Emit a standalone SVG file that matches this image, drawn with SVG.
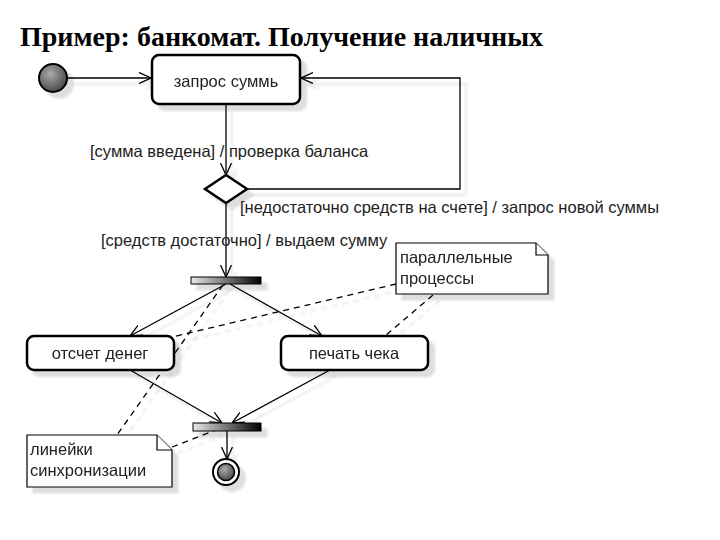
<svg xmlns="http://www.w3.org/2000/svg" width="720" height="540" viewBox="0 0 720 540">
<style>
.t{font-family:"Liberation Sans",Arial,sans-serif;font-size:16.5px;fill:#222}
.title{font-family:"Liberation Serif","Times New Roman",serif;font-size:28px;font-weight:bold;fill:#000}
.box{fill:#fff;stroke:#000;stroke-width:2.5}
.ln{fill:none;stroke:#000;stroke-width:1.3}
.dash{fill:none;stroke:#000;stroke-width:1.3;stroke-dasharray:6,5}
.note{fill:#fff;stroke:#000;stroke-width:1.2}
.bar{stroke:#000;stroke-width:1;fill:url(#bg)}
</style>
<defs>
<linearGradient id="bg" x1="0" y1="0" x2="1" y2="0">
<stop offset="0" stop-color="#e8e8e8"/><stop offset="1" stop-color="#000"/>
</linearGradient>
<radialGradient id="ball" cx="0.4" cy="0.35" r="0.7">
<stop offset="0" stop-color="#aaa"/><stop offset="1" stop-color="#444"/>
</radialGradient>
<filter id="sh" filterUnits="userSpaceOnUse" x="0" y="0" width="720" height="540">
<feGaussianBlur in="SourceAlpha" stdDeviation="1.2"/>
<feOffset dx="6" dy="6"/>
<feComponentTransfer><feFuncA type="linear" slope="0.13"/></feComponentTransfer>
<feMerge><feMergeNode/><feMergeNode in="SourceGraphic"/></feMerge>
</filter>
<marker id="ar" markerUnits="userSpaceOnUse" viewBox="0 0 12 12" refX="12" refY="6" markerWidth="12" markerHeight="12" orient="auto">
<path d="M0,0.5 L12,6 L0,11.5" fill="none" stroke="#000" stroke-width="1.3"/>
</marker>
</defs>
<rect width="720" height="540" fill="#fff"/>
<text class="title" x="20" y="46">Пример: банкомат. Получение наличных</text>

<g id="connectors" filter="url(#sh)">
<line class="ln" x1="67" y1="78" x2="151" y2="78" marker-end="url(#ar)"/>
<line class="ln" x1="226" y1="104" x2="226" y2="175" marker-end="url(#ar)"/>
<polyline class="ln" points="247,189 460,189 460,78 301,78" marker-end="url(#ar)"/>
<line class="ln" x1="226" y1="203" x2="226" y2="277" marker-end="url(#ar)"/>
<line class="ln" x1="226" y1="284" x2="130" y2="336" marker-end="url(#ar)"/>
<line class="ln" x1="230" y1="284" x2="322" y2="336" marker-end="url(#ar)"/>
<line class="ln" x1="130" y1="370" x2="222" y2="423" marker-end="url(#ar)"/>
<line class="ln" x1="330" y1="370" x2="232" y2="423" marker-end="url(#ar)"/>
<line class="ln" x1="227" y1="431" x2="227" y2="459" marker-end="url(#ar)"/>
<line class="dash" x1="396" y1="284" x2="172" y2="337"/>
<line class="dash" x1="433" y1="295" x2="385" y2="336"/>
<line class="dash" x1="223" y1="285" x2="117" y2="435"/>
<line class="dash" x1="172" y1="447" x2="216" y2="430"/>
</g>

<g id="start" filter="url(#sh)">
<circle cx="53" cy="78" r="14" fill="url(#ball)" stroke="#000" stroke-width="2"/>
</g>

<g id="request" filter="url(#sh)">
<rect class="box" x="152" y="55" width="148" height="49" rx="7"/>
<text class="t" x="226" y="87" text-anchor="middle">запрос суммь</text>
</g>

<g id="decision" filter="url(#sh)">
<polygon class="box" points="226,175 247,189 226,203 205,189"/>
</g>

<g id="labels">
<text class="t" x="90" y="157">[сумма введена] / проверка баланса</text>
<text class="t" x="240" y="213">[недостаточно средств на счете] / запрос новой суммы</text>
<text class="t" x="101" y="246">[средств достаточно] / выдаем сумму</text>
</g>

<g id="fork" filter="url(#sh)">
<rect class="bar" x="191" y="277" width="70" height="7"/>
</g>

<g id="count" filter="url(#sh)">
<rect class="box" x="27" y="336" width="147" height="34" rx="7"/>
<text class="t" x="100" y="359" text-anchor="middle">отсчет денег</text>
</g>

<g id="print" filter="url(#sh)">
<rect class="box" x="281" y="336" width="147" height="34" rx="7"/>
<text class="t" x="354" y="359" text-anchor="middle">печать чека</text>
</g>

<g id="join" filter="url(#sh)">
<rect class="bar" x="193" y="423" width="68" height="8"/>
</g>

<g id="end" filter="url(#sh)">
<circle cx="226" cy="472" r="13" fill="#fff" stroke="#000" stroke-width="2"/>
<circle cx="226" cy="472" r="8.5" fill="url(#ball)" stroke="#000" stroke-width="1.5"/>
</g>

<g id="note-parallel" filter="url(#sh)">
<path class="note" d="M396,243 H536 L548,255 V294 H396 Z"/>
<path class="note" d="M536,243 V255 H548"/>
<text class="t" x="400" y="263">параллельные</text>
<text class="t" x="400" y="284">процессы</text>
</g>

<g id="note-sync" filter="url(#sh)">
<path class="note" d="M27,435 H157 L172,450 V487 H27 Z"/>
<path class="note" d="M157,435 V450 H172"/>
<text class="t" x="30" y="455">линейки</text>
<text class="t" x="30" y="476">синхронизации</text>
</g>
</svg>
